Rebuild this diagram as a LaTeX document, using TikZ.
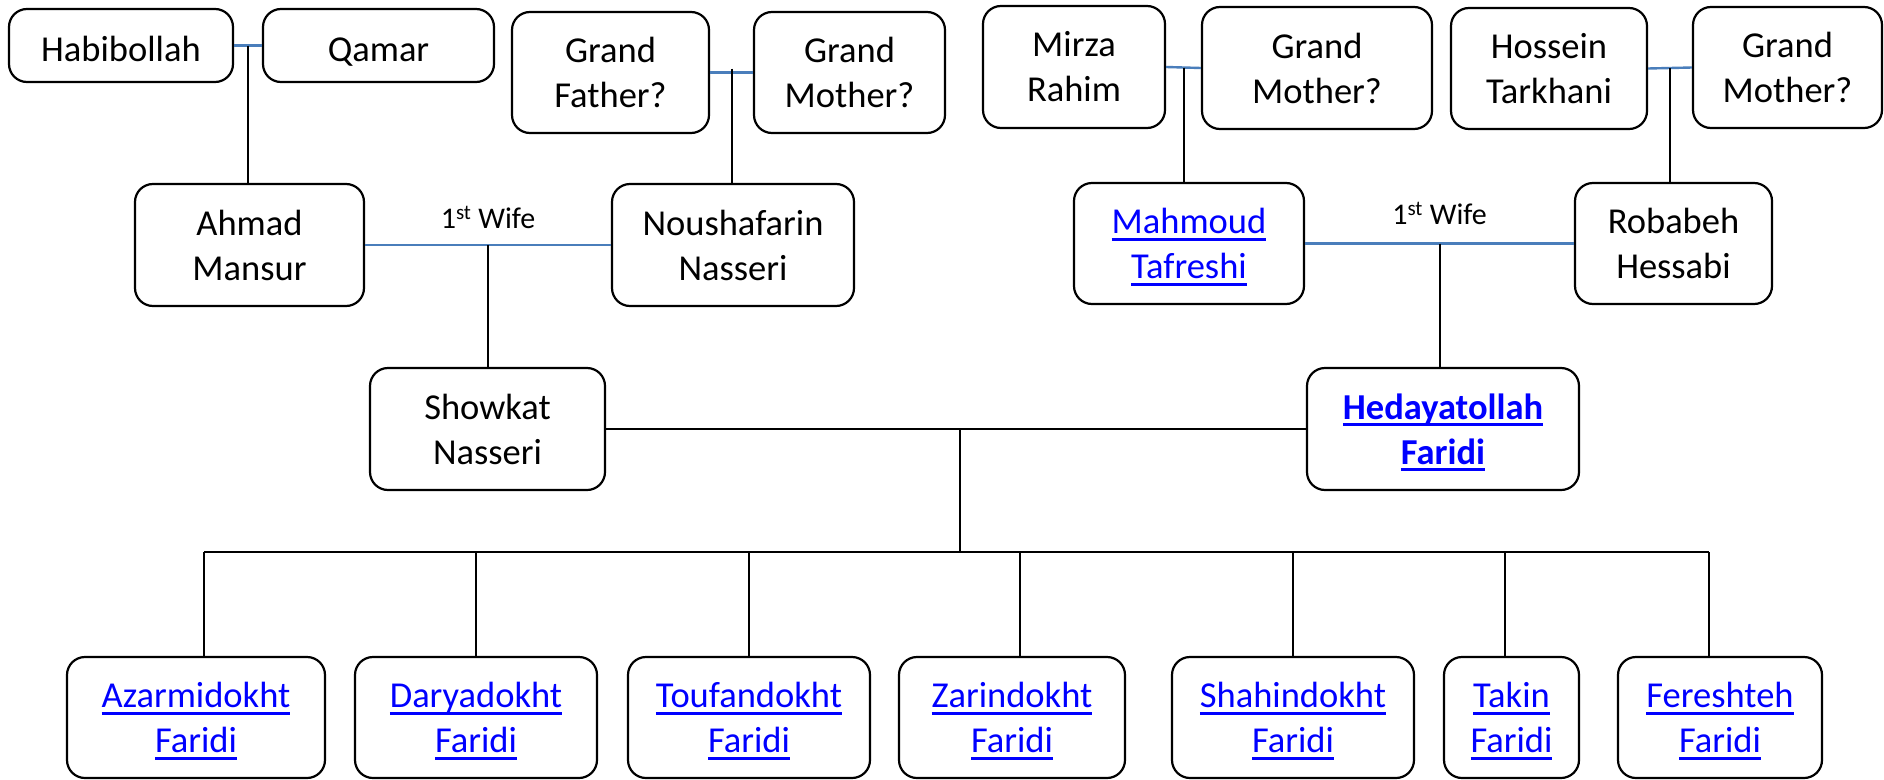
\documentclass[tikz,border=0pt]{standalone}
\usepackage{fontspec}
\setmainfont{Carlito}
\definecolor{spouse}{HTML}{4A7EBB}
\definecolor{linkblue}{HTML}{0000FF}
\newcommand\lnk[1]{\leavevmode\setbox0\hbox{#1}\rlap{\smash{\vrule height -4pt depth 7pt width \wd0}}\box0}
\newcommand\dropline[1]{\raisebox{-3.5pt}[25pt][0pt]{#1}}
\begin{document}
\begin{tikzpicture}[x=1pt,y=-1pt,
  person/.style={draw, rounded corners=18pt, line width=2.2pt, align=center, inner sep=0pt, font=\fontsize{36.5}{45}\selectfont},
  link/.style={person, text=linkblue},
  spouseline/.style={draw=spouse, line width=2.4pt},
  kinline/.style={draw=black, line width=2pt},
  note/.style={font=\fontsize{30}{32}\selectfont, inner sep=0pt}]
\useasboundingbox[fill=white] (0,0) rectangle (1884,779);
% grandparents
\node[person, minimum width=224pt, minimum height=73pt] (hab) at (121,45.5) {\dropline{Habibollah}};
\node[person, minimum width=231pt, minimum height=73pt] (qam) at (378.5,45.5) {\dropline{Qamar}};
\node[person, minimum width=197pt, minimum height=121pt] (gf) at (610.5,72.5) {Grand\\Father?};
\node[person, minimum width=191pt, minimum height=121pt] (gm1) at (849.5,72.5) {Grand\\Mother?};
\node[person, minimum width=182pt, minimum height=122pt] (mir) at (1074,67) {Mirza\\Rahim};
\node[person, minimum width=230pt, minimum height=122pt] (gm2) at (1317,68) {Grand\\Mother?};
\node[person, minimum width=196pt, minimum height=121pt] (hos) at (1549,68.5) {Hossein\\Tarkhani};
\node[person, minimum width=189pt, minimum height=121pt] (gm3) at (1787.5,67.5) {Grand\\Mother?};
% parents
\node[person, minimum width=229pt, minimum height=122pt] (ahm) at (249.5,245) {Ahmad\\Mansur};
\node[person, minimum width=242pt, minimum height=122pt] (nou) at (733,245) {Noushafarin\\Nasseri};
\node[link, minimum width=230pt, minimum height=121pt] (mah) at (1189,243.5) {\lnk{Mahmoud}\\\lnk{Tafreshi}};
\node[person, minimum width=197pt, minimum height=121pt] (rob) at (1673.5,243.5) {Robabeh\\Hessabi};
% couple
\node[person, minimum width=235pt, minimum height=122pt] (sho) at (487.5,429) {Showkat\\Nasseri};
\node[link, minimum width=272pt, minimum height=122pt, font=\fontsize{36.5}{45}\selectfont\bfseries] (hed) at (1443,429) {\lnk{Hedayatollah}\\\lnk{Faridi}};
% children
\node[link, minimum width=258pt, minimum height=121pt] (az) at (196,717.5) {\lnk{Azarmidokht}\\\lnk{Faridi}};
\node[link, minimum width=242pt, minimum height=121pt] (da) at (476,717.5) {\lnk{Daryadokht}\\\lnk{Faridi}};
\node[link, minimum width=242pt, minimum height=121pt] (to) at (749,717.5) {\lnk{Toufandokht}\\\lnk{Faridi}};
\node[link, minimum width=226pt, minimum height=121pt] (za) at (1012,717.5) {\lnk{Zarindokht}\\\lnk{Faridi}};
\node[link, minimum width=242pt, minimum height=121pt] (sh) at (1293,717.5) {\lnk{Shahindokht}\\\lnk{Faridi}};
\node[link, minimum width=135pt, minimum height=121pt] (ta) at (1511.5,717.5) {\lnk{Takin}\\\lnk{Faridi}};
\node[link, minimum width=204pt, minimum height=121pt] (fe) at (1720,717.5) {\lnk{Fereshteh}\\\lnk{Faridi}};
% spouse links to grandparents
\draw[spouseline] (hab.east) -- coordinate[pos=0.5] (m1) (qam.west);
\draw[kinline] (m1) -- (m1 |- ahm.north);
\draw[spouseline] (gf.east) -- coordinate[pos=0.5] (m2) (gm1.west);
\draw[kinline] ([yshift=4pt]m2) -- (m2 |- nou.north);
\draw[spouseline] (mir.east) -- coordinate[pos=0.5] (m4) (gm2.west);
\draw[kinline] (m4) -- (m4 |- mah.north);
\draw[spouseline] (hos.east) -- coordinate[pos=0.5] (m5) (gm3.west);
\draw[kinline] (m5) -- (m5 |- rob.north);
% parents
\draw[spouseline] (ahm.east) -- coordinate[pos=0.5] (m3) (nou.west);
\node[note] (w1) at ([yshift=28pt]m3) {1\textsuperscript{st} Wife};
\draw[kinline] (m3) -- (m3 |- sho.north);
\draw[spouseline] (mah.east) -- coordinate[pos=0.5] (m6) (rob.west);
\node[note] (w2) at ([yshift=30pt]m6) {1\textsuperscript{st} Wife};
\draw[kinline] (m6) -- (m6 |- hed.north);
% children
\coordinate (busy) at (0,552);
\draw[kinline] (sho.east) -- coordinate[pos=0.5] (m7) (hed.west);
\draw[kinline] ([xshift=4pt]m7) -- ([xshift=4pt]m7 |- busy);
\coordinate (azt) at ([xshift=8pt]az.north);
\coordinate (dat) at (da.north);
\coordinate (tot) at (to.north);
\coordinate (zat) at ([xshift=8pt]za.north);
\coordinate (sht) at (sh.north);
\coordinate (tat) at ([xshift=-7pt]ta.north);
\coordinate (fet) at ([xshift=-11pt]fe.north);
\draw[kinline] (azt |- busy) -- (fet |- busy);
\foreach \c in {azt,dat,tot,zat,sht,tat,fet} \draw[kinline] (\c) -- (\c |- busy);
\end{tikzpicture}
\end{document}
